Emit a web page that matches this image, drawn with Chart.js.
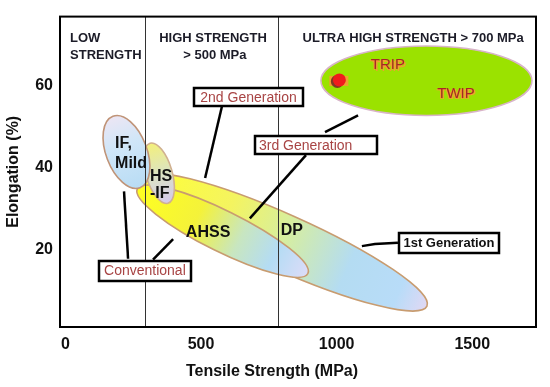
<!DOCTYPE html>
<html>
<head>
<meta charset="utf-8">
<script src="https://cdn.jsdelivr.net/npm/chart.js@4"></script>
<style>
    html, body { margin: 0; padding: 0; background: #fff; }
</style>
</head>
<body>
<canvas id="my-chart" width="550" height="387"></canvas>
<script>
// * Steel families on a tensile strength / elongation map

// Axis ticks
const xTicks = [0, 500, 1000, 1500]
const yTicks = [20, 40, 60]

// Each region is an ellipse: both ends of its long axis (MPa, %) and its half spread in %
const regions = ['Ultra high strength', '1st Generation', 'AHSS', 'HS-IF', 'IF, Mild']
const startMPa = [942, 275, 265, 312, 175]
const startElong = [61.3, 37.5, 34.8, 46.0, 52.6]
const endMPa = [1720, 1333, 894, 378, 275]
const endElong = [61.3, 6.1, 14.1, 31.3, 35.1]
const spreadElong = [8.5, 6.8, 5.0, 3.2, 5.0]

// The red TRIP point
const pointMPa = [1010]
const pointElong = [61.5]

// Strength class limits drawn as vertical lines (MPa)
const classLimits = [293, 784]

// Region colours (gradient along the long axis)
const regionFills = [
    [[0, '#9be200'], [1, '#9be200']],
    [[0, '#ffff33'], [0.3, '#f4f460'], [0.5, '#d6eea0'], [0.72, '#b4dcf2'], [0.9, '#b8dcf8'], [1, '#e0d8f4']],
    [[0, '#ffff20'], [0.35, '#f4f23a'], [0.6, '#c8e6c0'], [0.8, '#b4dcf4'], [1, '#dcdcf8']],
    [[0, '#f4f07a'], [0.5, '#dce4c0'], [1, '#d4c8ee']],
    [[0, '#ece6f4'], [0.4, '#d0e6f8'], [1, '#b8dcf4']]
]
const regionEdges = ['#d8b4c8', '#c89c70', '#c89c70', '#d0b090', '#c09478']

// Text inside the plot, anchored in data units
const notes = [
    { text: 'LOW', x: 17, y: 71.7, align: 'left', font: 'bold 13px Arial', color: '#1c1c28' },
    { text: 'STRENGTH', x: 17, y: 67.6, align: 'left', font: 'bold 13px Arial', color: '#1c1c28' },
    { text: 'HIGH STRENGTH', x: 544, y: 71.7, font: 'bold 13px Arial', color: '#1c1c28' },
    { text: '> 500 MPa', x: 551, y: 67.6, font: 'bold 13px Arial', color: '#1c1c28' },
    { text: 'ULTRA HIGH STRENGTH > 700 MPa', x: 1282, y: 71.7, font: 'bold 13px Arial', color: '#1c1c28' },
    { text: 'IF,', x: 183, y: 45.8, align: 'left', font: 'bold 16px Arial', color: '#111' },
    { text: 'Mild', x: 183, y: 40.9, align: 'left', font: 'bold 16px Arial', color: '#111' },
    { text: 'HS', x: 312, y: 37.8, align: 'left', font: 'bold 16px Arial', color: '#111' },
    { text: '-IF', x: 312, y: 33.7, align: 'left', font: 'bold 16px Arial', color: '#111' },
    { text: 'AHSS', x: 526, y: 24.2, font: 'bold 16px Arial', color: '#111' },
    { text: 'DP', x: 835, y: 24.5, font: 'bold 16px Arial', color: '#111' },
    { text: 'TRIP', x: 1189, y: 65.1, font: '15px Arial', color: '#a82626', glow: '#f0a030' },
    { text: 'TWIP', x: 1440, y: 58.1, font: '15px Arial', color: '#a82626', glow: '#f0a030' }
]

// Callout boxes (centre in data units, box size in px)
const callouts = [
    { text: '2nd Generation', x: 675, y: 57.4, w: 109, h: 18, font: '14px Arial', color: '#a84444' },
    { text: '3rd Generation', x: 924, y: 45.5, w: 122, h: 18, font: '14px Arial', color: '#a84444', left: 4 },
    { text: 'Conventional', x: 293, y: 14.8, w: 92, h: 20, font: '14px Arial', color: '#a84444' },
    { text: '1st Generation', x: 1414, y: 21.6, w: 100, h: 20, font: 'bold 13px Arial', color: '#111' }
]

// Leader lines from the callouts to the regions
const leaders = [
    [[577, 55.0], [515, 37.5]],
    [[1079, 52.8], [957, 48.7]],
    [[887, 43.1], [680, 27.6]],
    [[216, 34.2], [231, 17.7]],
    [[323, 17.5], [397, 22.5]],
    [[1093, 20.8], [1141, 21.3], [1226, 21.6]]
]

const mapPlugin = {
    id: 'steelMap',
    beforeDatasetsDraw(chart) {
        const { ctx, chartArea, scales } = chart
        const sx = scales.x
        const sy = scales.y
        const unitY = Math.abs(sy.getPixelForValue(1) - sy.getPixelForValue(0))

        ctx.save()
        ctx.beginPath()
        ctx.rect(chartArea.left, chartArea.top, chartArea.right - chartArea.left, chartArea.bottom - chartArea.top)
        ctx.clip()

        // regions
        for (let i = 0; i < regions.length; i++) {
            const x1 = sx.getPixelForValue(startMPa[i])
            const y1 = sy.getPixelForValue(startElong[i])
            const x2 = sx.getPixelForValue(endMPa[i])
            const y2 = sy.getPixelForValue(endElong[i])
            const a = Math.hypot(x2 - x1, y2 - y1) / 2
            const b = spreadElong[i] * unitY
            const angle = Math.atan2(y2 - y1, x2 - x1)
            const grad = ctx.createLinearGradient(x1, y1, x2, y2)
            regionFills[i].forEach((s) => grad.addColorStop(s[0], s[1]))
            ctx.beginPath()
            ctx.ellipse((x1 + x2) / 2, (y1 + y2) / 2, a, b, angle, 0, Math.PI * 2)
            ctx.fillStyle = grad
            ctx.fill()
            ctx.lineWidth = 1.6
            ctx.strokeStyle = regionEdges[i]
            ctx.stroke()
        }

        // class limits
        ctx.strokeStyle = '#333'
        ctx.lineWidth = 1
        classLimits.forEach((v) => {
            const px = Math.round(sx.getPixelForValue(v)) + 0.5
            ctx.beginPath()
            ctx.moveTo(px, chartArea.top)
            ctx.lineTo(px, chartArea.bottom)
            ctx.stroke()
        })

        // leader lines
        ctx.strokeStyle = '#000'
        ctx.lineWidth = 2.5
        leaders.forEach((pts) => {
            ctx.beginPath()
            pts.forEach((p, k) => {
                const px = sx.getPixelForValue(p[0])
                const py = sy.getPixelForValue(p[1])
                if (k === 0) ctx.moveTo(px, py)
                else ctx.lineTo(px, py)
            })
            ctx.stroke()
        })

        // orange mark and shade behind the TRIP point
        const dx = sx.getPixelForValue(pointMPa[0])
        const dy = sy.getPixelForValue(pointElong[0])
        ctx.fillStyle = '#f0a030'
        ctx.fillRect(dx - 10, dy - 4, 19, 10)
        ctx.fillStyle = '#7e3a22'
        ctx.beginPath()
        ctx.arc(dx - 2, dy + 1.5, 6.5, 0, Math.PI * 2)
        ctx.fill()
        ctx.restore()
    },
    afterDatasetsDraw(chart) {
        const { ctx, chartArea, scales } = chart
        const sx = scales.x
        const sy = scales.y
        ctx.save()
        ctx.textBaseline = 'middle'

        // callouts
        callouts.forEach((c) => {
            const cx = sx.getPixelForValue(c.x)
            const cy = sy.getPixelForValue(c.y)
            const bx = Math.round(cx - c.w / 2)
            const by = Math.round(cy - c.h / 2)
            ctx.fillStyle = '#fff'
            ctx.fillRect(bx, by, c.w, c.h)
            ctx.lineWidth = 2.5
            ctx.strokeStyle = '#000'
            ctx.strokeRect(bx, by, c.w, c.h)
            ctx.font = c.font
            ctx.fillStyle = c.color
            if (c.left) {
                ctx.textAlign = 'left'
                ctx.fillText(c.text, bx + c.left, cy + 1)
            } else {
                ctx.textAlign = 'center'
                ctx.fillText(c.text, cx, cy + 1)
            }
        })

        // notes
        notes.forEach((n) => {
            const px = sx.getPixelForValue(n.x)
            const py = sy.getPixelForValue(n.y)
            ctx.font = n.font
            ctx.textAlign = n.align || 'center'
            if (n.glow) {
                ctx.fillStyle = n.glow
                ctx.fillText(n.text, px + 1.5, py + 1.5)
                ctx.fillText(n.text, px - 1, py + 1)
            }
            ctx.fillStyle = n.color
            ctx.fillText(n.text, px, py)
        })

        // plot frame
        ctx.lineWidth = 2
        ctx.strokeStyle = '#000'
        ctx.strokeRect(chartArea.left, chartArea.top, chartArea.right - chartArea.left, chartArea.bottom - chartArea.top)

        // x axis title
        ctx.font = 'bold 16px Arial'
        ctx.fillStyle = '#111'
        ctx.textAlign = 'center'
        ctx.fillText('Tensile Strength (MPa)', 272, 372)
        ctx.restore()
    }
}

const ctx = document.getElementById('my-chart')

new Chart(ctx, {
    type: 'scatter',
    data: {
        datasets: [
            {
                label: 'TRIP',
                data: pointMPa.map((v, i) => ({ x: v, y: pointElong[i] })),
                pointRadius: 6.5,
                pointBackgroundColor: '#f01c1c',
                pointBorderWidth: 0,
                pointHoverRadius: 6.5
            }
        ]
    },
    options: {
        responsive: false,
        animation: false,
        events: [],
        layout: { padding: { left: 0, top: 13, right: 14, bottom: 0 } },
        plugins: {
            legend: { display: false },
            tooltip: { enabled: false }
        },
        scales: {
            x: {
                type: 'linear',
                min: -20,
                max: 1735,
                afterBuildTicks: (s) => { s.ticks = xTicks.map((v) => ({ value: v })) },
                afterFit: (s) => { s.height = 60 },
                grid: { display: false, drawTicks: false },
                border: { display: false },
                ticks: {
                    padding: 8,
                    color: '#111',
                    font: { family: 'Arial', size: 16, weight: 'bold' },
                    maxRotation: 0,
                    callback: (v) => String(v)
                }
            },
            y: {
                type: 'linear',
                min: 1,
                max: 77,
                afterBuildTicks: (s) => { s.ticks = yTicks.map((v) => ({ value: v })) },
                afterFit: (s) => { s.width = 60 },
                grid: { display: false, drawTicks: false },
                border: { display: false },
                ticks: {
                    padding: 7,
                    color: '#111',
                    font: { family: 'Arial', size: 16, weight: 'bold' },
                    callback: (v) => String(v)
                },
                title: {
                    display: true,
                    text: 'Elongation (%)',
                    color: '#111',
                    font: { family: 'Arial', size: 16, weight: 'bold' },
                    padding: { top: 4, bottom: 4 }
                }
            }
        }
    },
    plugins: [mapPlugin]
})
</script>
</body>
</html>
